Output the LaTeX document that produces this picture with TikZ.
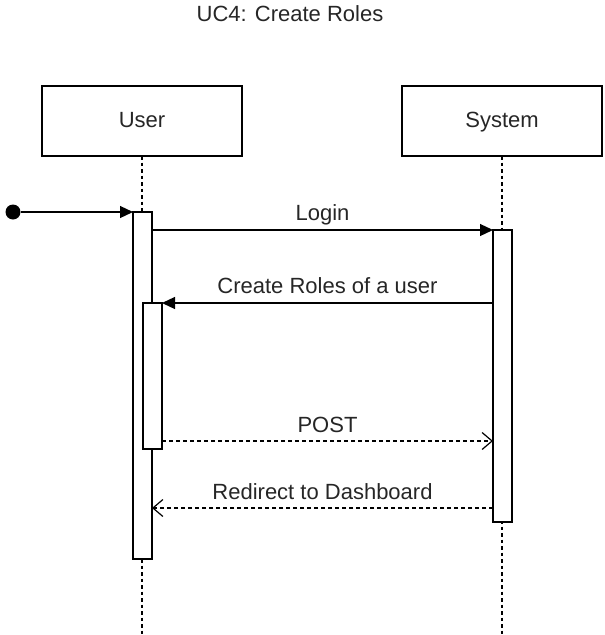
\documentclass[tikz,border=0pt]{standalone}
\usepackage{fontspec}
\setmainfont{Liberation Sans}
\usetikzlibrary{arrows.meta}
\begin{document}
\begin{tikzpicture}[x=1pt,y=-1pt,
  txt/.style={font=\fontsize{22}{26}\selectfont, inner sep=0pt, text=black!85},
  msglbl/.style={txt, midway, anchor=base, yshift=9pt},
  actorbox/.style={draw, line width=1.2pt, minimum width=200pt, minimum height=70pt, inner sep=0pt, outer sep=0pt, text height=16pt, text depth=4pt, font=\fontsize{22}{26}\selectfont, text=black!85},
  actbar/.style={draw, fill=white, line width=1.2pt, minimum width=19pt, inner sep=0pt, outer sep=0pt},
  lifeline/.style={line width=1.4pt, dash pattern=on 3.5pt off 3pt},
  sync/.style={line width=1.2pt, -{Triangle[length=13pt,width=12pt]}},
  reply/.style={line width=1.2pt, dash pattern=on 4pt off 3pt, -{Straight Barb[length=10pt,width=17pt,line width=1.2pt]}}]
\useasboundingbox (0,0) rectangle (605,635);
\node[txt] (title) at (290,14) {UC4: Create Roles};
\node[actorbox] (user) at (142,121) {User};
\node[actorbox] (sys) at (502,121) {System};
\coordinate (uend) at (142,635);
\coordinate (send) at (502,635);
\draw[lifeline] (user.south) -- (uend);
\draw[lifeline] (sys.south) -- (send);
\node[actbar, minimum height=347pt] (uact) at (142.5,385.5) {};
\node[actbar, minimum height=146pt] (uact2) at (152.5,376) {};
\node[actbar, minimum height=292pt] (sact) at (502.5,376) {};
\node[circle, fill=black, minimum size=15pt, inner sep=0pt] (dot) at (13,212) {};
\draw[sync] (dot) -- (uact.north west);
% messages
\coordinate (l1) at (152,230);
\coordinate (l2) at (493,230);
\draw[sync] (l1) -- (l2) node[msglbl, yshift=1pt] (login) {Login};
\coordinate (c1) at (493,303);
\coordinate (c2) at (162,303);
\draw[sync] (c1) -- (c2) node[msglbl, yshift=1pt] (create) {Create Roles of a user};
\coordinate (p1) at (162,441);
\coordinate (p2) at (493,441);
\draw[reply] (p1) -- (p2) node[msglbl] (post) {POST};
\coordinate (r1) at (493,508);
\coordinate (r2) at (152,508);
\draw[reply] (r1) -- (r2) node[msglbl] (redir) {Redirect to Dashboard};
\end{tikzpicture}
\end{document}
